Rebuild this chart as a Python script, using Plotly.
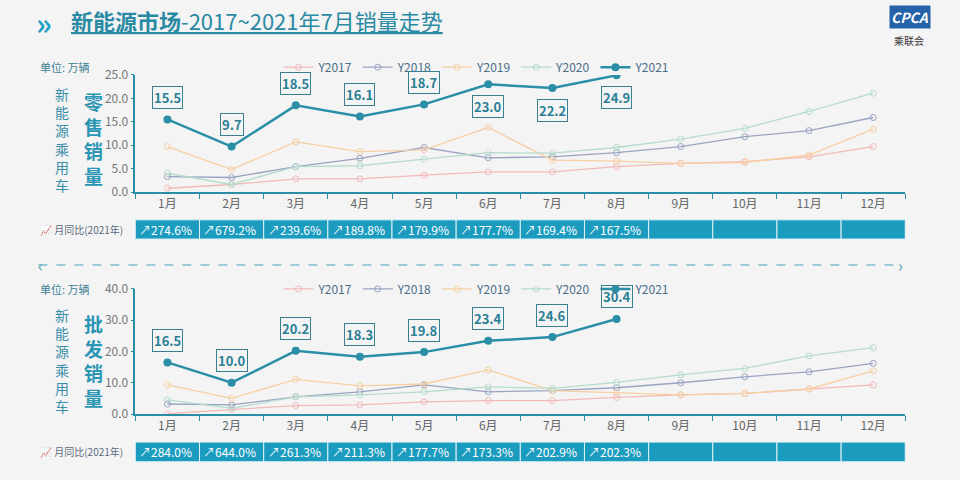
import plotly.graph_objects as go
from plotly.subplots import make_subplots

months = ["1月", "2月", "3月", "4月", "5月", "6月", "7月", "8月", "9月", "10月", "11月", "12月"]

# 零售 (retail)
retail_2017 = [0.8, 1.6, 2.8, 2.8, 3.6, 4.3, 4.3, 5.4, 6.1, 6.5, 7.5, 9.7]
retail_2018 = [3.3, 3.1, 5.4, 7.2, 9.5, 7.3, 7.5, 8.4, 9.7, 11.8, 13.1, 15.9]
retail_2019 = [9.7, 4.8, 10.7, 8.6, 9.0, 13.8, 6.8, 6.6, 6.1, 6.3, 7.9, 13.4]
retail_2020 = [4.0, 1.6, 5.4, 5.6, 7.0, 8.4, 8.3, 9.5, 11.3, 13.6, 17.2, 21.1]
retail_2021 = [15.5, 9.7, 18.5, 16.1, 18.7, 23.0, 22.2, 24.9]
retail_yoy = ["274.6%", "679.2%", "239.6%", "189.8%", "179.9%", "177.7%", "169.4%", "167.5%"]

# 批发 (wholesale)
whole_2017 = [0.1, 1.5, 2.7, 2.9, 3.9, 4.3, 4.3, 5.3, 6.1, 6.6, 8.0, 9.3]
whole_2018 = [3.2, 2.9, 5.5, 7.1, 9.3, 7.1, 7.5, 8.4, 10.0, 11.9, 13.5, 16.2]
whole_2019 = [9.3, 5.0, 11.1, 9.0, 9.6, 14.1, 7.5, 6.8, 6.1, 6.6, 8.0, 13.8]
whole_2020 = [4.5, 1.8, 5.5, 6.1, 7.1, 8.7, 8.2, 10.1, 12.5, 14.6, 18.6, 21.2]
whole_2021 = [16.5, 10.0, 20.2, 18.3, 19.8, 23.4, 24.6, 30.4]
whole_yoy = ["284.0%", "644.0%", "261.3%", "211.3%", "177.7%", "173.3%", "202.9%", "202.3%"]

teal = "#2a8fa6"
band = "#1b9cbf"
colors = {"Y2017": "#f3b9b9", "Y2018": "#9aa3c2", "Y2019": "#f7cfa2", "Y2020": "#b6dccd"}
font = "Noto Sans CJK SC"

fig = make_subplots(rows=2, cols=1)

panels = [
    (1, [retail_2017, retail_2018, retail_2019, retail_2020], retail_2021, "legend",
     [1, 1, 1, 1, 1, -1, -1, -1]),
    (2, [whole_2017, whole_2018, whole_2019, whole_2020], whole_2021, "legend2",
     [1, 1, 1, 1, 1, 1, 1, 1]),
]

for row, olds, cur, leg, sides in panels:
    for name, vals in zip(["Y2017", "Y2018", "Y2019", "Y2020"], olds):
        fig.add_trace(go.Scatter(
            x=months, y=vals, mode="lines+markers", name=name, legend=leg,
            line=dict(color=colors[name], width=1.3),
            marker=dict(symbol="circle-open", size=6, color=colors[name])
        ), row=row, col=1)
    fig.add_trace(go.Scatter(
        x=months[:len(cur)], y=cur, mode="lines+markers", name="Y2021", legend=leg,
        line=dict(color=teal, width=2.5), marker=dict(size=8, color=teal)
    ), row=row, col=1)
    xr = "x" if row == 1 else "x2"
    yr = "y" if row == 1 else "y2"
    for i, v in enumerate(cur):
        fig.add_annotation(
            x=months[i], y=v, xref=xr, yref=yr, text="<b>%.1f</b>" % v,
            showarrow=False, yshift=22 * sides[i],
            font=dict(size=13, color="#2a7f95"), bordercolor="#3a7f90",
            borderwidth=1, borderpad=1
        )

fig.update_xaxes(showgrid=False, showline=True, linecolor=teal, linewidth=1.5,
                 ticks="outside", tickcolor=teal, ticklen=5, tickson="boundaries",
                 range=[-0.5, 11.5],
                 tickfont=dict(size=12, color="#666"), domain=[0.141, 0.943])
fig.update_yaxes(showgrid=False, showline=True, linecolor=teal, linewidth=1.5,
                 ticks="outside", tickcolor=teal, ticklen=3, zeroline=False,
                 tickformat=".1f", tickfont=dict(size=12, color="#777"))
fig.update_yaxes(range=[0, 25], dtick=5, domain=[0.6, 0.844], row=1, col=1)
fig.update_yaxes(range=[0, 40], dtick=10, domain=[0.1375, 0.398], row=2, col=1)

# yoy bands
for xr, y0, y1, yoy in [("x", 0.502, 0.542, retail_yoy), ("x2", 0.038, 0.079, whole_yoy)]:
    for i in range(12):
        fig.add_shape(type="rect", xref=xr, yref="paper", x0=i - 0.5, x1=i + 0.5,
                      y0=y0, y1=y1, fillcolor=band, line=dict(color="#dff2f7", width=1))
    for i, t in enumerate(yoy):
        fig.add_annotation(x=i - 0.47, y=(y0 + y1) / 2, xref=xr, yref="paper",
                           text="↗" + t, showarrow=False, xanchor="left", yanchor="middle",
                           font=dict(size=12, color="white"))
    fig.add_annotation(x=0.04, y=(y0 + y1) / 2, xref="paper", yref="paper",
                       text="📈 月同比(2021年)", showarrow=False, xanchor="left",
                       yanchor="middle", font=dict(size=10, color="#5a6a80"))

# side labels
for ytop, word in [(0.86, "零<br>售<br>销<br>量"), (0.398, "批<br>发<br>销<br>量")]:
    fig.add_annotation(x=0.04, y=ytop, xref="paper", yref="paper", text="单位: 万辆",
                       showarrow=False, xanchor="left", yanchor="middle",
                       font=dict(size=11, color="#3b7f95"))
    fig.add_annotation(x=0.055, y=ytop - 0.03, xref="paper", yref="paper", yanchor="top",
                       text="新<br>能<br>源<br>乘<br>用<br>车", showarrow=False,
                       font=dict(size=14, color="#3b8ea8"))
    fig.add_annotation(x=0.085, y=ytop - 0.04, xref="paper", yref="paper", yanchor="top",
                       text="<b>" + word + "</b>", showarrow=False,
                       font=dict(size=19, color="#2a96b3"))

# title & logo
fig.add_annotation(x=0.035, y=0.955, xref="paper", yref="paper", xanchor="left",
                   yanchor="middle", text="<b>»</b>", showarrow=False,
                   font=dict(size=30, color="#21a0c4"))
fig.add_annotation(x=0.072, y=0.958, xref="paper", yref="paper", xanchor="left",
                   yanchor="middle", text="<u><b>新能源市场</b>-2017~2021年7月销量走势</u>",
                   showarrow=False, font=dict(size=22, color="#2b8aa3"))
fig.add_annotation(x=0.97, y=0.965, xref="paper", yref="paper", xanchor="right",
                   yanchor="middle", text="<b><i>CPCA</i></b>", showarrow=False,
                   bgcolor="#2463a8", font=dict(size=14, color="white"))
fig.add_annotation(x=0.965, y=0.915, xref="paper", yref="paper", xanchor="right",
                   yanchor="middle", text="乘联会", showarrow=False,
                   font=dict(size=10, color="#333"))

# dashed separator
fig.add_shape(type="line", xref="paper", yref="paper", x0=0.04, x1=0.94, y0=0.448, y1=0.448,
              line=dict(color="#4aa3b8", width=1, dash="dash"))
fig.add_annotation(x=0.037, y=0.448, xref="paper", yref="paper", text="‹", showarrow=False,
                   yanchor="middle", font=dict(size=16, color="#4aa3b8"))
fig.add_annotation(x=0.943, y=0.448, xref="paper", yref="paper", text="›", showarrow=False,
                   yanchor="middle", font=dict(size=16, color="#4aa3b8"))

leg_style = dict(orientation="h", x=0.29, xanchor="left", yanchor="middle",
                 bgcolor="rgba(0,0,0,0)", font=dict(size=12, color="#4a6d88"))
fig.update_layout(
    width=960, height=480, margin=dict(l=0, r=0, t=0, b=0, autoexpand=False),
    paper_bgcolor="#f4f4f4", plot_bgcolor="#f4f4f4",
    font=dict(family=font),
    legend=dict(y=0.86, **leg_style),
    legend2=dict(y=0.398, **leg_style),
)

fig.write_html("out.html", config={"displayModeBar": False},
               post_script="document.body.style.margin='0';")
